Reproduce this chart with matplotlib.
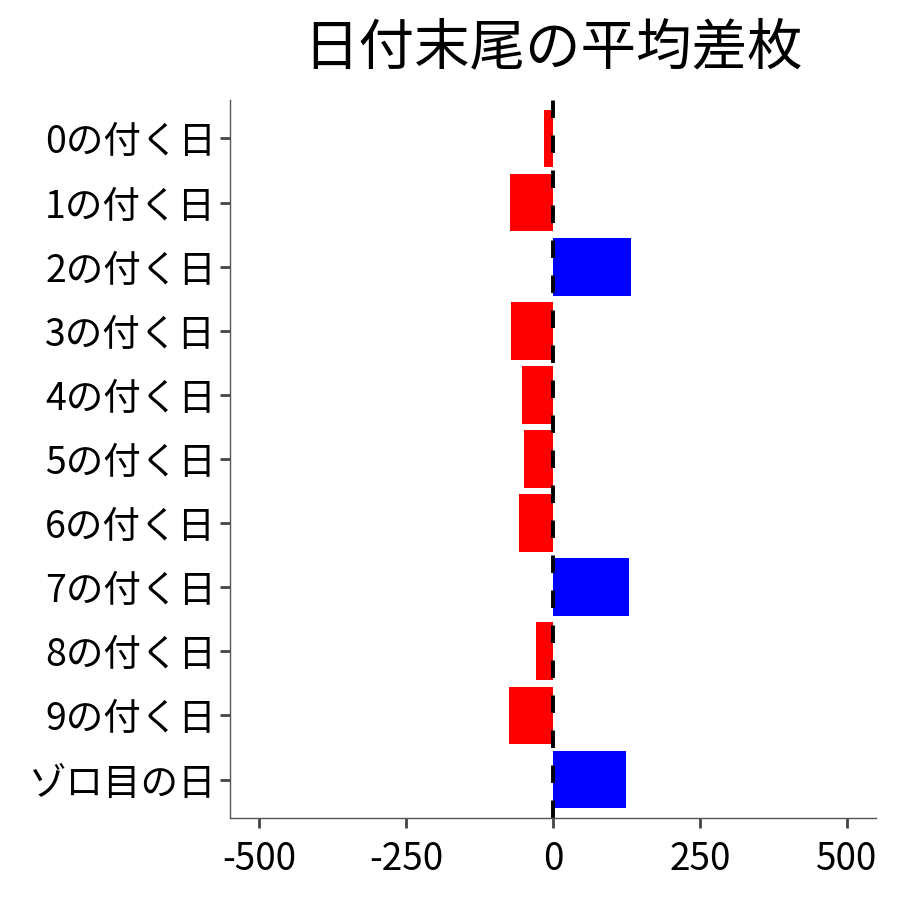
import matplotlib
matplotlib.use("Agg")
import matplotlib.pyplot as plt
import numpy as np

plt.rcParams["font.family"] = ["Noto Sans CJK JP", "DejaVu Sans"]

labels = ["0の付く日", "1の付く日", "2の付く日", "3の付く日", "4の付く日",
          "5の付く日", "6の付く日", "7の付く日", "8の付く日", "9の付く日", "ゾロ目の日"]
values = [-15, -73, 132, -71, -53, -49, -58, 130, -29, -75, 124]
xticks = [-500, -250, 0, 250, 500]

colors = ["blue" if v > 0 else "red" for v in values]

fig = plt.figure(figsize=(9, 9), dpi=100)
ax = fig.add_axes([230 / 900, 82 / 900, 646 / 900, 718 / 900])

y = np.arange(len(labels))
ax.barh(y, values, height=0.9, color=colors)
ax.axvline(0, color="black", linestyle=(0, (4.5, 4.5)), linewidth=2.8)

ax.set_yticks(y)
ax.set_yticklabels(labels, fontsize=27)
ax.set_xticks(xticks)
ax.set_xticklabels([str(t) for t in xticks], fontsize=26.5)
ax.set_xlim(-550, 550)
ax.set_ylim(len(labels) - 0.4, -0.6)

for side in ["top", "right"]:
    ax.spines[side].set_visible(False)
for side in ["left", "bottom"]:
    ax.spines[side].set_color("#555555")
    ax.spines[side].set_linewidth(1.0)
ax.tick_params(axis="both", length=7, width=2, color="#444444")
ax.tick_params(axis="x", pad=9)
ax.tick_params(axis="y", pad=3)

fig.suptitle("日付末尾の平均差枚", fontsize=40, x=553 / 900, y=0.978)

fig.savefig("out.png", dpi=100)
